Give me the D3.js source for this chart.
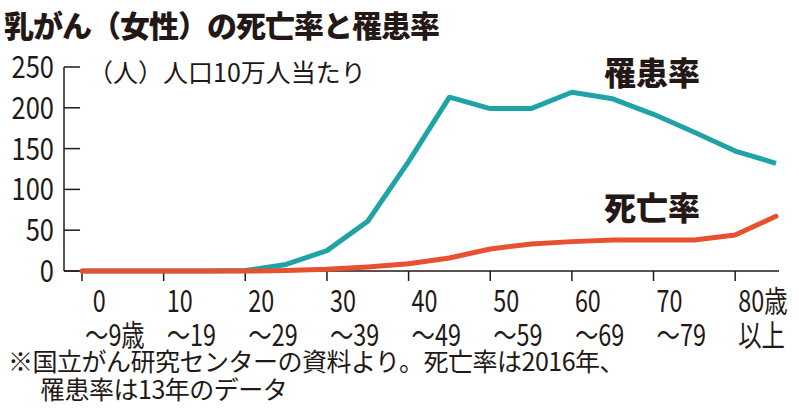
<!DOCTYPE html><html><head><meta charset="utf-8"><script src="https://d3js.org/d3.v7.min.js"></script>
<style>body{margin:0;background:#fff}text{font-family:"Noto Sans CJK JP",sans-serif;fill:#231815}</style></head><body><svg width="799" height="411"></svg>
<script>
const ageIndex = d3.range(18);
const incidence = [0,0,0,0,0.5,8,25,61,134,213,199,199,219,211,192,170,147,132];
const mortality = [0,0,0,0,0,0.5,2,5,9,16,27,33,36,38,38,38,44,67];
const yTicks = [0,50,100,150,200,250];
const catTop = ["0","10","20","30","40","50","60","70","80歳"];
const catBot = ["～9歳","～19","～29","～39","～49","～59","～69","～79","以上"];
const svg = d3.select("svg");
const x = d3.scaleLinear().domain([0,17]).range([82,776]);
const y = d3.scaleLinear().domain([0,250]).range([271,67]);
svg.append("text").attr("x",4).attr("y",37).attr("font-size",30).attr("font-weight",900).attr("letter-spacing",-1).text("乳がん（女性）の死亡率と罹患率");
svg.append("line").attr("x1",64).attr("x2",64).attr("y1",67).attr("y2",271).attr("stroke","#231815").attr("stroke-width",1.5);
yTicks.forEach(t=>{
  svg.append("line").attr("x1",64).attr("x2",80).attr("y1",y(t)).attr("y2",y(t)).attr("stroke","#231815").attr("stroke-width",1.5);
  svg.append("g").attr("transform",`translate(54,${y(t)+11}) scale(0.85,1)`)
    .append("text").attr("text-anchor","end").attr("font-size",30).text(t);
});
svg.append("text").attr("x",88).attr("y",82).attr("font-size",25).text("（人）人口10万人当たり");
svg.append("line").attr("x1",64).attr("x2",779).attr("y1",271).attr("y2",271).attr("stroke","#231815").attr("stroke-width",1.5);
catTop.forEach((c,i)=>{
  const tx = x(i*2);
  svg.append("line").attr("x1",tx).attr("x2",tx).attr("y1",271).attr("y2",281).attr("stroke","#231815").attr("stroke-width",1.5);
  const g = svg.append("g").attr("transform",`translate(${tx+3},0) scale(0.78,1)`);
  g.append("text").attr("x",i==0?10:0).attr("y",312).attr("font-size",30).text(c);
  g.append("text").attr("x",0).attr("y",346).attr("font-size",30).text(catBot[i]);
});
const line = d3.line().x((d,i)=>x(i)).y(d=>y(d));
svg.append("path").attr("d",line(incidence)).attr("fill","none").attr("stroke","#1fa3a6").attr("stroke-width",5).attr("stroke-linejoin","round");
svg.append("path").attr("d",line(mortality)).attr("fill","none").attr("stroke","#e8512f").attr("stroke-width",5).attr("stroke-linecap","round").attr("stroke-linejoin","round");
svg.append("text").attr("x",604).attr("y",85).attr("font-size",32).attr("font-weight",900).text("罹患率");
svg.append("text").attr("x",604).attr("y",220).attr("font-size",32).attr("font-weight",900).text("死亡率");
svg.append("text").attr("x",8).attr("y",371).attr("font-size",25).attr("letter-spacing",-0.5).text("※国立がん研究センターの資料より。死亡率は2016年、");
svg.append("text").attr("x",40).attr("y",399).attr("font-size",25).attr("letter-spacing",-0.5).text("罹患率は13年のデータ");
</script></body></html>
